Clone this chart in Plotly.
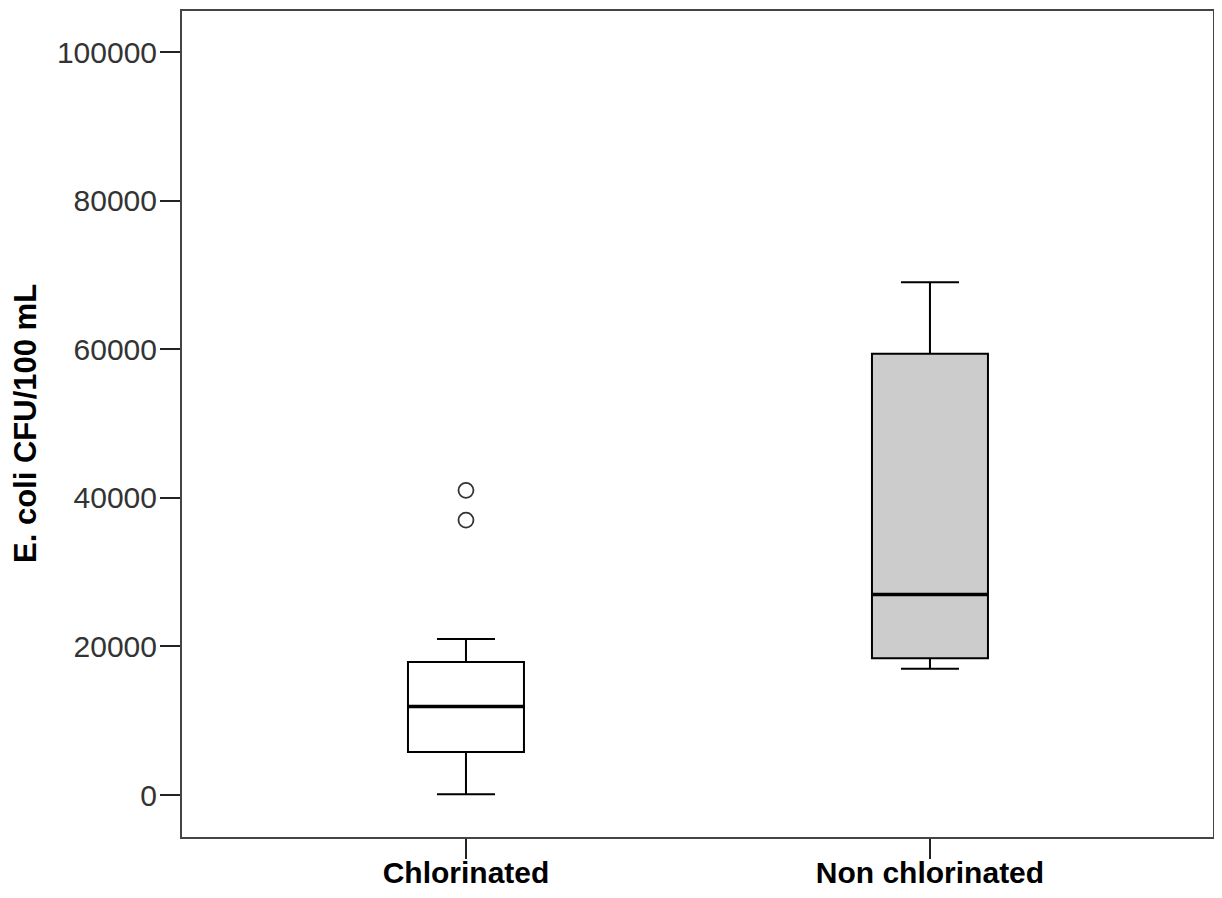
import plotly.graph_objects as go

categories = ["Chlorinated", "Non chlorinated"]
lower_whisker = [100, 17000]
q1_values = [5800, 18400]
medians = [11900, 27000]
q3_values = [17900, 59400]
upper_whisker = [21000, 69000]
outlier_category = ["Chlorinated", "Chlorinated"]
outlier_values = [37000, 41000]
y_ticks = [0, 20000, 40000, 60000, 80000, 100000]
y_title = "E. coli CFU/100 mL"

fills = ["#ffffff", "#cccccc"]
box_w = 0.25
pos = {c: i for i, c in enumerate(categories)}

fig = go.Figure()
for i, c in enumerate(categories):
    fig.add_trace(go.Box(
        x=[pos[c]], q1=[q1_values[i]], median=[medians[i]], q3=[q3_values[i]],
        lowerfence=[lower_whisker[i]], upperfence=[upper_whisker[i]],
        width=box_w, whiskerwidth=0.5, fillcolor=fills[i],
        line=dict(color="#000000", width=2), boxpoints=False,
        showlegend=False, name=c,
    ))
    fig.add_trace(go.Scatter(
        x=[pos[c] - box_w / 2, pos[c] + box_w / 2], y=[medians[i], medians[i]],
        mode="lines", line=dict(color="#000000", width=3.5),
        showlegend=False, hoverinfo="skip",
    ))

fig.add_trace(go.Scatter(
    x=[pos[c] for c in outlier_category], y=outlier_values, mode="markers",
    marker=dict(symbol="circle-open", size=15, color="#333333", line=dict(width=1.8)),
    showlegend=False,
))

# page body has an 8px default margin; size figure so the page is exactly 1222x898
fig.update_layout(
    width=1206, height=882,
    margin=dict(l=174, r=1, t=3, b=53),
    paper_bgcolor="white", plot_bgcolor="white",
    boxmode="overlay",
    font=dict(family="Liberation Sans, Arial, sans-serif"),
    annotations=[dict(
        text="<b>" + y_title + "</b>", textangle=-90,
        xref="paper", yref="paper", x=0, y=0.5, xanchor="center", yanchor="middle",
        xshift=-157, showarrow=False, font=dict(size=31, color="#000000"),
    )],
)
fig.update_xaxes(
    type="linear", range=[-0.612, 1.61], automargin=False,
    tickvals=list(range(len(categories))), ticktext=categories,
    tickfont=dict(size=30, color="#000000", family="Liberation Sans, Arial, sans-serif", weight="bold"),
    ticks="outside", ticklen=20, tickwidth=2, tickcolor="#222222",
    ticklabelstandoff=-12,
    showline=True, linecolor="#444444", linewidth=2, mirror=True,
    showgrid=False, zeroline=False,
)
fig.update_yaxes(
    range=[-5653, 105518], automargin=False,
    tickvals=y_ticks, ticktext=[str(v) for v in y_ticks],
    tickfont=dict(size=30, color="#333333"),
    ticks="outside", ticklen=20, tickwidth=2, tickcolor="#222222",
    ticklabelstandoff=-3,
    showline=True, linecolor="#444444", linewidth=2, mirror=True,
    showgrid=False, zeroline=False,
)

fig.write_html("out.html")
